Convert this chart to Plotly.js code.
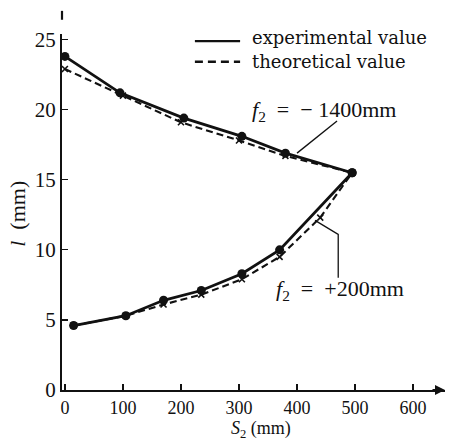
<!DOCTYPE html>
<html>
<head>
<meta charset="utf-8">
<script src="https://cdn.plot.ly/plotly-3.0.1.min.js"></script>
<style>html,body{margin:0;padding:0;background:#fff;}#chart{width:450px;height:441px;}</style>
</head>
<body>
<div id="chart"></div>
<script>
// f2 = -1400 mm (upper branch)
const upperExpS = [0, 95, 205, 305, 380, 495];
const upperExpL = [23.8, 21.2, 19.4, 18.1, 16.9, 15.5];
const upperTheoS = [0, 100, 200, 300, 380, 495];
const upperTheoL = [22.9, 21.0, 19.1, 17.8, 16.7, 15.5];
// f2 = +200 mm (lower branch)
const lowerExpS = [15, 105, 170, 235, 305, 370, 495];
const lowerExpL = [4.6, 5.3, 6.4, 7.1, 8.3, 10.0, 15.5];
const lowerTheoS = [15, 105, 170, 235, 305, 370, 440, 495];
const lowerTheoL = [4.6, 5.3, 6.1, 6.8, 7.9, 9.5, 12.3, 15.5];

const xTicks = [0, 100, 200, 300, 400, 500, 600];
const yTicks = [0, 5, 10, 15, 20, 25];
const legendLabels = ["experimental value", "theoretical value"];
const curveLabels = ["<i>f</i><sub>2</sub>\u00A0 = \u00A0\u2212\u00A01400mm", "<i>f</i><sub>2</sub>\u00A0 = \u00A0+200mm"];

const ink = '#111';
const serif = 'Liberation Serif, Times New Roman, serif';
const wide = 'DejaVu Serif, serif';

const solid = (x, y) => ({x, y, mode: 'lines+markers', type: 'scatter', showlegend: false,
  line: {color: ink, width: 2.8}, marker: {color: ink, size: 9, symbol: 'circle'}});
const dashed = (x, y) => ({x, y, mode: 'lines+markers', type: 'scatter', showlegend: false,
  line: {color: ink, width: 2.1, dash: '7px,4px'}, marker: {color: ink, size: 6, symbol: 'x-thin', line: {color: ink, width: 1.6}}});

const data = [
  dashed(upperTheoS, upperTheoL),
  solid(upperExpS, upperExpL),
  dashed(lowerTheoS, lowerTheoL),
  solid(lowerExpS, lowerExpL)
];

const layout = {
  width: 450, height: 441,
  margin: {l: 62, r: 5, t: 34, b: 51},
  paper_bgcolor: '#fff', plot_bgcolor: '#fff',
  font: {family: serif, color: ink, size: 16},
  showlegend: false,
  xaxis: {
    range: [-5, 655], tickvals: xTicks, ticktext: xTicks.map(String),
    ticks: 'inside', ticklen: 6, tickcolor: ink, tickwidth: 1.3,
    showline: true, linecolor: ink, linewidth: 2, showgrid: false, zeroline: false,
    tickfont: {family: serif, size: 18, color: ink},
    title: {text: '', font: {family: serif, size: 22, color: ink}}
  },
  yaxis: {
    range: [0, 25.4], tickvals: yTicks, ticktext: yTicks.map(String),
    ticks: 'inside', ticklen: 6, tickcolor: ink, tickwidth: 1.3,
    showline: true, linecolor: ink, linewidth: 2, showgrid: false, zeroline: false,
    tickfont: {family: serif, size: 21, color: ink},
    title: {text: '', font: {family: serif, size: 22, color: ink}}
  },
  shapes: [
    // legend samples
    {type: 'line', xref: 'paper', yref: 'paper', x0: 0.347, x1: 0.465, y0: 0.980, y1: 0.980, line: {color: ink, width: 2.2}},
    {type: 'line', xref: 'paper', yref: 'paper', x0: 0.347, x1: 0.465, y0: 0.922, y1: 0.922, line: {color: ink, width: 2.4, dash: '8px,5px'}},
    // leader lines
    {type: 'line', xref: 'x', yref: 'y', x0: 469, y0: 19.2, x1: 400, y1: 16.9, line: {color: ink, width: 1.3}},
    {type: 'path', xref: 'x', yref: 'y', path: 'M 431 12.1 L 471 11.1 L 471 8.0', line: {color: ink, width: 1.3}},
    // top mark of y axis
    {type: 'line', xref: 'paper', yref: 'paper', x0: 0.0, x1: 0.0, y0: 1.04, y1: 1.065, line: {color: ink, width: 2.2}}
  ],
  annotations: [
    {xref: 'paper', yref: 'paper', x: 0.49, y: 0.99, xanchor: 'left', yanchor: 'middle', showarrow: false,
     text: legendLabels[0], font: {family: wide, size: 18, color: ink}},
    {xref: 'paper', yref: 'paper', x: 0.49, y: 0.922, xanchor: 'left', yanchor: 'middle', showarrow: false,
     text: legendLabels[1], font: {family: wide, size: 18, color: ink}},
    {xref: 'x', yref: 'y', x: 447, y: 19.9, showarrow: false, text: curveLabels[0], font: {family: serif, size: 22, color: ink}},
    {xref: 'x', yref: 'y', x: 474, y: 7.1, showarrow: false, text: curveLabels[1], font: {family: serif, size: 22, color: ink}},
    // axis titles
    {xref: 'paper', yref: 'paper', x: 0.52, y: 0, yshift: -39, xanchor: 'center', yanchor: 'middle', showarrow: false,
     text: '<i>S</i><sub>2</sub>\u00A0(mm)', font: {family: serif, size: 18, color: ink}},
    {xref: 'paper', yref: 'paper', x: 0, xshift: -44, y: 0.495, xanchor: 'center', yanchor: 'middle', showarrow: false, textangle: -90,
     text: '<i>l</i>\u00A0 (mm)', font: {family: serif, size: 22, color: ink}},
    // x axis arrow
    {xref: 'paper', yref: 'paper', x: 1, y: 0, ax: -14, ay: 0, showarrow: true, arrowhead: 2, arrowsize: 1, arrowwidth: 2, arrowcolor: ink, text: ''}
  ]
};

Plotly.newPlot('chart', data, layout, {displayModeBar: false, staticPlot: true});
</script>
</body>
</html>
